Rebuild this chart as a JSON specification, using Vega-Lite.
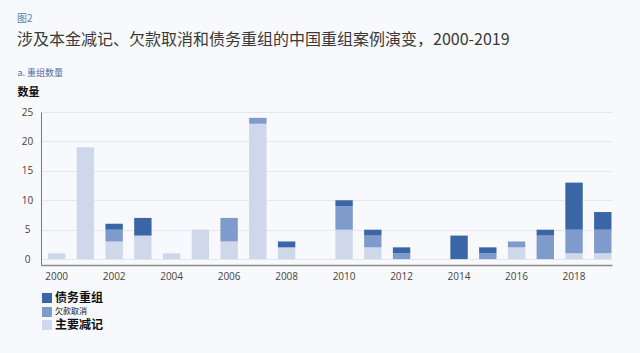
{
  "$schema": "https://vega.github.io/schema/vega-lite/v6.json",
  "autosize": "none",
  "width": 571,
  "height": 153,
  "padding": {"left": 41, "top": 112, "right": 28, "bottom": 88},
  "background": "#f8f9fc",
  "title": {
    "text": "图2",
    "subtitle": "涉及本金减记、欠款取消和债务重组的中国重组案例演变，2000-2019",
    "anchor": "start",
    "frame": "group",
    "dx": -24,
    "offset": 20,
    "font": "Noto Sans CJK SC",
    "fontSize": 10,
    "fontWeight": "normal",
    "color": "#5b7db5",
    "subtitleFont": "Noto Sans CJK SC",
    "subtitleFontSize": 16,
    "subtitleColor": "#3a3a3a",
    "subtitlePadding": 8
  },
  "data": {
    "values": [
      {"year": 2000, "type": "主要减记", "count": 1},
      {"year": 2001, "type": "主要减记", "count": 19},
      {"year": 2002, "type": "主要减记", "count": 3},
      {"year": 2002, "type": "欠款取消", "count": 2},
      {"year": 2002, "type": "债务重组", "count": 1},
      {"year": 2003, "type": "主要减记", "count": 4},
      {"year": 2003, "type": "债务重组", "count": 3},
      {"year": 2004, "type": "主要减记", "count": 1},
      {"year": 2005, "type": "主要减记", "count": 5},
      {"year": 2006, "type": "主要减记", "count": 3},
      {"year": 2006, "type": "欠款取消", "count": 4},
      {"year": 2007, "type": "主要减记", "count": 23},
      {"year": 2007, "type": "欠款取消", "count": 1},
      {"year": 2008, "type": "主要减记", "count": 2},
      {"year": 2008, "type": "债务重组", "count": 1},
      {"year": 2010, "type": "主要减记", "count": 5},
      {"year": 2010, "type": "欠款取消", "count": 4},
      {"year": 2010, "type": "债务重组", "count": 1},
      {"year": 2011, "type": "主要减记", "count": 2},
      {"year": 2011, "type": "欠款取消", "count": 2},
      {"year": 2011, "type": "债务重组", "count": 1},
      {"year": 2012, "type": "欠款取消", "count": 1},
      {"year": 2012, "type": "债务重组", "count": 1},
      {"year": 2014, "type": "债务重组", "count": 4},
      {"year": 2015, "type": "欠款取消", "count": 1},
      {"year": 2015, "type": "债务重组", "count": 1},
      {"year": 2016, "type": "主要减记", "count": 2},
      {"year": 2016, "type": "欠款取消", "count": 1},
      {"year": 2017, "type": "欠款取消", "count": 4},
      {"year": 2017, "type": "债务重组", "count": 1},
      {"year": 2018, "type": "主要减记", "count": 1},
      {"year": 2018, "type": "欠款取消", "count": 4},
      {"year": 2018, "type": "债务重组", "count": 8},
      {"year": 2019, "type": "主要减记", "count": 1},
      {"year": 2019, "type": "欠款取消", "count": 4},
      {"year": 2019, "type": "债务重组", "count": 3}
    ]
  },
  "transform": [
    {"calculate": "indexof(['主要减记', '欠款取消', '债务重组'], datum.type)", "as": "stackOrder"}
  ],
  "mark": {"type": "bar"},
  "encoding": {
    "x": {
      "field": "year",
      "type": "ordinal",
      "scale": {
        "domain": [2000, 2001, 2002, 2003, 2004, 2005, 2006, 2007, 2008, 2009, 2010, 2011, 2012, 2013, 2014, 2015, 2016, 2017, 2018, 2019],
        "paddingInner": 0.395,
        "paddingOuter": 0.13,
        "align": 0.93
      },
      "axis": {
        "values": [2000, 2002, 2004, 2006, 2008, 2010, 2012, 2014, 2016, 2018],
        "labelAngle": 0,
        "labelFont": "Open Sans",
        "labelFontSize": 10,
        "labelColor": "#444444",
        "labelPadding": 6,
        "ticks": false,
        "domainColor": "#8a8a8a",
        "domainWidth": 1.5,
        "title": "a. 重组数量",
        "titleFont": "Noto Sans CJK SC",
        "titleFontSize": 9,
        "titleFontWeight": "normal",
        "titleColor": "#4a6fa5",
        "titleX": -24,
        "titleY": -193,
        "titleAlign": "left",
        "titleAnchor": "start",
        "titleBaseline": "middle"
      }
    },
    "y": {
      "field": "count",
      "type": "quantitative",
      "aggregate": "sum",
      "stack": "zero",
      "scale": {"domain": [-1, 25], "nice": false, "zero": false},
      "axis": {
        "values": [0, 5, 10, 15, 20, 25],
        "grid": true,
        "gridColor": "#e4e7ee",
        "gridWidth": 1,
        "ticks": false,
        "tickSize": 0,
        "labelAlign": "center",
        "labelPadding": 14,
        "labelFont": "Open Sans",
        "labelFontSize": 10,
        "labelColor": "#444444",
        "domainColor": "#7a7a7a",
        "domainWidth": 1,
        "title": "数量",
        "titleFont": "Noto Sans CJK SC",
        "titleFontSize": 11,
        "titleFontWeight": "bold",
        "titleColor": "#111111",
        "titleAngle": 0,
        "titleX": -24,
        "titleY": -20,
        "titleAlign": "left",
        "titleAnchor": "start",
        "titleBaseline": "middle"
      }
    },
    "color": {
      "field": "type",
      "type": "nominal",
      "scale": {
        "domain": ["债务重组", "欠款取消", "主要减记"],
        "range": ["#3a66a8", "#7f9bcb", "#cfd8ea"]
      },
      "legend": {
        "title": null,
        "orient": "none",
        "legendX": 0,
        "legendY": 180,
        "symbolType": "square",
        "symbolSize": 100,
        "symbolStrokeWidth": 0,
        "symbolOpacity": 1,
        "labelFont": "Noto Sans CJK SC",
        "labelFontSize": 12,
        "labelColor": "#111111",
        "labelOffset": 2,
        "rowPadding": 2,
        "encode": {
          "labels": {
            "update": {
              "fontSize": {"signal": "datum.label === '欠款取消' ? 8 : 12"},
              "fontWeight": {"signal": "datum.label === '欠款取消' ? 'normal' : 'bold'"}
            }
          }
        }
      }
    },
    "order": {"field": "stackOrder", "type": "quantitative", "sort": "ascending"}
  },
  "config": {
    "view": {"stroke": null},
    "axis": {"domain": true}
  }
}
